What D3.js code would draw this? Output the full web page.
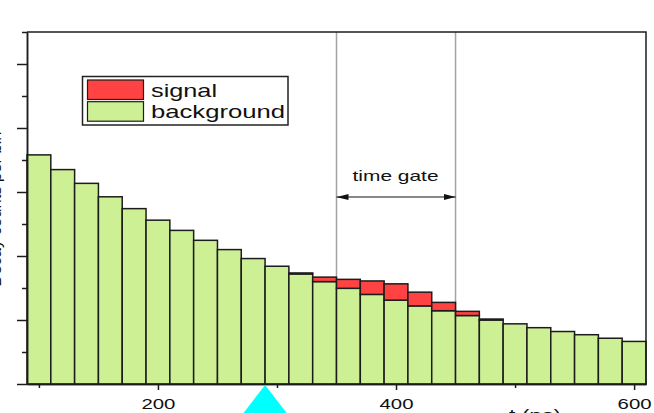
<!DOCTYPE html>
<html>
<head>
<meta charset="utf-8">
<script src="https://cdn.jsdelivr.net/npm/d3@7"></script>
<style>
  html, body { margin: 0; padding: 0; background: #fff; overflow: hidden; }
  svg { display: block; }
  text { font-family: "Liberation Sans", Arial, sans-serif; fill: #111; }
</style>
</head>
<body>
<svg id="chart" width="654" height="413"></svg>
<script>
// Histogram bin centres (ns), bin width 20 ns
const bins = [100, 120, 140, 160, 180, 200, 220, 240, 260, 280, 300, 320, 340,
              360, 380, 400, 420, 440, 460, 480, 500, 520, 540, 560, 580, 600];
const binWidth = 20;
// Counts per bin: background and the signal stacked on top of it
const background = [358, 335, 313.5, 292.5, 274, 256, 240, 224.5, 210, 196, 184, 172, 160,
                    149.5, 140, 131, 122, 114.5, 107, 100, 94, 88, 82, 77, 71.5, 66.5];
const signal     = [0, 0, 0, 0, 0, 0, 0, 0, 0, 0, 0, 1.5, 7,
                    14, 21, 25.5, 21.5, 13, 6.5, 1.5, 0, 0, 0, 0, 0, 0];
// Axis ticks
const xMajorTicks = [200, 400, 600];
const xMinorTicks = [100, 300, 500];
const yMajorTicks = [0, 100, 200, 300, 400, 500];
const yMinorTicks = [50, 150, 250, 350, 450, 550];
const xDomain = [90, 610];
const yDomain = [0, 550];
// Time gate window and trigger marker
const gate = [350, 450];
const triggerAt = 290;
const legendItems = [
  { label: "signal", color: "#ff4242" },
  { label: "background", color: "#cef095" }
];

const svg = d3.select("#chart");
const plot = { left: 27, right: 646, top: 32, bottom: 384 };
const x = d3.scaleLinear().domain(xDomain).range([plot.left, plot.right]);
const y = d3.scaleLinear().domain(yDomain).range([plot.bottom, plot.top]);

// stretched text helper (wide lettering)
function wide(sel, len) {
  sel.attr("textLength", len).attr("lengthAdjust", "spacingAndGlyphs");
}

// time-gate guide lines, behind the bars
svg.append("g").selectAll("line").data(gate).join("line")
  .attr("x1", d => x(d)).attr("x2", d => x(d))
  .attr("y1", plot.top).attr("y2", plot.bottom)
  .attr("stroke", "#a3a3a3").attr("stroke-width", 1.5);

// bars
const rows = bins.map((c, i) => ({ c, bg: background[i], sig: signal[i] }));
const bars = svg.append("g");
bars.selectAll("rect.bg").data(rows).join("rect")
  .attr("class", "bg")
  .attr("x", d => x(d.c - binWidth / 2))
  .attr("width", d => x(d.c + binWidth / 2) - x(d.c - binWidth / 2))
  .attr("y", d => y(d.bg))
  .attr("height", d => y(0) - y(d.bg))
  .attr("fill", legendItems[1].color)
  .attr("stroke", "#1c1c1c").attr("stroke-width", 1.5);
bars.selectAll("rect.sig").data(rows.filter(d => d.sig > 0)).join("rect")
  .attr("class", "sig")
  .attr("x", d => x(d.c - binWidth / 2))
  .attr("width", d => x(d.c + binWidth / 2) - x(d.c - binWidth / 2))
  .attr("y", d => y(d.bg + d.sig))
  .attr("height", d => y(d.bg) - y(d.bg + d.sig))
  .attr("fill", legendItems[0].color)
  .attr("stroke", "#1c1c1c").attr("stroke-width", 1.5);

// axes
const xMajor = svg.append("g").attr("transform", `translate(0,${plot.bottom})`)
  .call(d3.axisBottom(x).tickValues(xMajorTicks).tickSize(6).tickSizeOuter(0).tickPadding(8));
xMajor.selectAll("text").attr("font-size", 15.5).style("font-family", null)
  .each(function () { wide(d3.select(this), 34); });
svg.append("g").attr("transform", `translate(0,${plot.bottom})`)
  .call(d3.axisBottom(x).tickValues(xMinorTicks).tickSize(4).tickFormat("").tickSizeOuter(0));
svg.append("g").attr("transform", `translate(${plot.left},0)`)
  .call(d3.axisLeft(y).tickValues(yMajorTicks).tickSize(10).tickFormat("").tickSizeOuter(0));
svg.append("g").attr("transform", `translate(${plot.left},0)`)
  .call(d3.axisLeft(y).tickValues(yMinorTicks).tickSize(5).tickFormat("").tickSizeOuter(0));
svg.selectAll(".domain").attr("stroke", "#1c1c1c").attr("stroke-width", 1.5);
svg.selectAll(".tick line").attr("stroke", "#1c1c1c").attr("stroke-width", 1.5);

// frame: top and right edges
svg.append("path")
  .attr("d", `M${plot.left},${plot.top}H${plot.right}V${plot.bottom}`)
  .attr("fill", "none").attr("stroke", "#1c1c1c").attr("stroke-width", 1.5);

// axis titles
svg.append("text")
  .attr("transform", `translate(1,${(plot.top + plot.bottom) / 2 + 1}) rotate(-90)`)
  .attr("text-anchor", "middle").attr("font-size", 16.5)
  .text("Decay counts per bin");
svg.append("text")
  .attr("x", 509).attr("y", 421).attr("font-size", 16)
  .call(wide, 52)
  .text("t (ns)");

// time gate annotation
const defs = svg.append("defs");
defs.append("marker").attr("id", "head").attr("viewBox", "0 0 12 6")
  .attr("refX", 12).attr("refY", 3).attr("markerWidth", 12).attr("markerHeight", 6)
  .attr("markerUnits", "userSpaceOnUse").attr("orient", "auto-start-reverse")
  .append("path").attr("d", "M0,0L12,3L0,6Z").attr("fill", "#111");
const arrowY = 197;
svg.append("line")
  .attr("x1", x(gate[0])).attr("x2", x(gate[1]))
  .attr("y1", arrowY).attr("y2", arrowY)
  .attr("stroke", "#111").attr("stroke-width", 1.2)
  .attr("marker-start", "url(#head)").attr("marker-end", "url(#head)");
svg.append("text")
  .attr("x", (x(gate[0]) + x(gate[1])) / 2 - 0.5).attr("y", 181)
  .attr("text-anchor", "middle").attr("font-size", 15)
  .call(wide, 86)
  .text("time gate");

// legend
const lg = svg.append("g");
lg.append("rect").attr("x", 82.5).attr("y", 76.5).attr("width", 205.5).attr("height", 48.5)
  .attr("fill", "#fff").attr("stroke", "#222").attr("stroke-width", 1.5);
const textLens = [66, 134];
legendItems.forEach((it, i) => {
  lg.append("rect").attr("x", 87.5).attr("y", 80 + i * 21.7).attr("width", 56).attr("height", 19.5)
    .attr("fill", it.color).attr("stroke", "#1c1c1c").attr("stroke-width", 1.2);
  lg.append("text").attr("x", 151).attr("y", 96.5 + i * 21.8).attr("font-size", 18.5)
    .call(wide, textLens[i]).text(it.label);
});

// trigger marker below the axis
const tx = x(triggerAt);
svg.append("path")
  .attr("d", `M${tx},${plot.bottom + 1}L${tx + 27},${plot.bottom + 36}L${tx - 27},${plot.bottom + 36}Z`)
  .attr("fill", "#00ffff");
</script>
</body>
</html>
